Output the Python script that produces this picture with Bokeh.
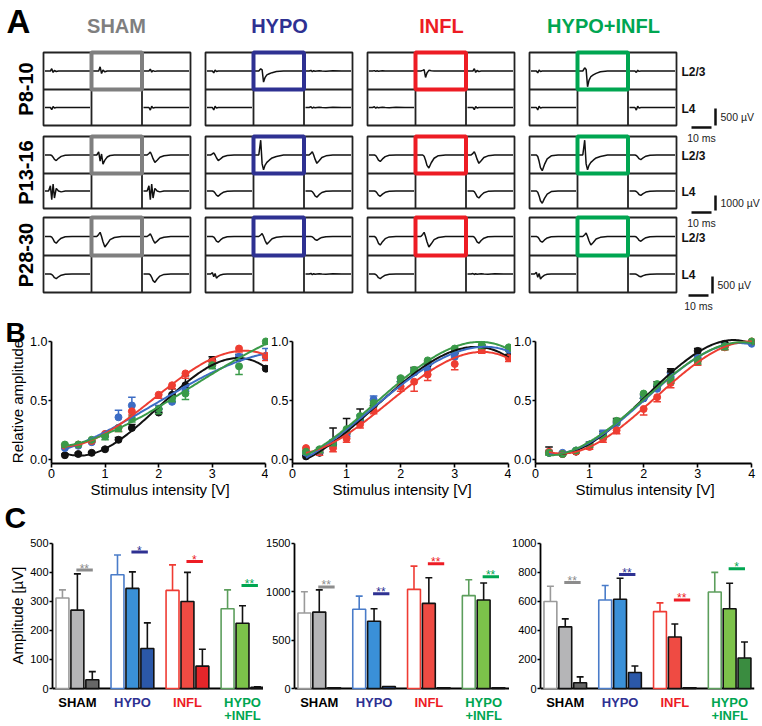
import numpy as np
from bokeh.plotting import figure
from bokeh.models import Range1d, FixedTicker, NumeralTickFormatter
from bokeh.layouts import column, row
from bokeh.embed import file_html
from bokeh.resources import INLINE
from bokeh.core.properties import value

FONT = "Liberation Sans"

# ======================= DATA =======================
GROUPS = ["SHAM", "HYPO", "INFL", "HYPO+INFL"]
GROUP_COLORS = ["#7f7f7f", "#2e3192", "#ed1c24", "#00a651"]
AGES = ["P8-10", "P13-16", "P28-30"]
LAYERS = ["L2/3", "L4"]
SCALE_LABELS = ["500 µV", "1000 µV", "500 µV"]
TIME_LABEL = "10 ms"

# Panel A: example traces (normalised sample times, relative deflection)
TRACE_T = [0, 0.08, 0.12, 0.15, 0.18, 0.21, 0.25, 0.30, 0.36, 0.45, 0.60, 0.80, 1.0]
SHAPES = {
    "flat":      [0, 0, 0.10, -0.10, 0.05, -0.05, 0, 0.05, 0, -0.03, 0.03, 0, 0],
    "blipup":    [0, 0, 0, 0.50, -0.30, 0.10, -0.10, 0, 0, 0, 0, 0, 0],
    "blipdn":    [0, 0, 0, -0.40, 0.20, -0.10, 0, 0, 0, 0, 0, 0, 0],
    "spike":     [0, 0, 0.10, 0.20, -1.0, -0.30, 0.10, 0.05, 0, 0, 0, 0, 0],
    "spikeslow": [0, 0, 0.20, 0.10, -1.0, -0.60, -0.35, -0.25, -0.15, -0.05, 0, 0, 0],
    "upspike":   [0, 0, 1.0, -0.60, -1.0, -0.70, -0.50, -0.35, -0.20, -0.10, 0, 0, 0],
    "vee":       [0, 0, 0, -0.10, -0.40, -0.80, -1.0, -0.60, -0.25, -0.05, 0, 0, 0],
    "wdip":      [0, 0, 0.30, -0.60, 0.10, -0.90, -0.50, -0.20, -0.05, 0, 0, 0, 0],
    "wspike":    [0, 0, 0.60, -1.0, 0.80, -0.80, 0.30, 0, -0.10, 0, 0, 0, 0],
    "bumpdip":   [0, 0, 0.20, 0.40, 0, -0.50, -1.0, -0.70, -0.30, -0.10, 0, 0, 0],
}
# per cell: L2/3 left, L2/3 centre, L2/3 right, L4 left, L4 right
TRACES = {
    "P8-10": {
        "SHAM": [("blipup", .25), ("blipup", .45), ("blipup", .2), ("blipdn", .3), ("blipdn", .35)],
        "HYPO": [("blipdn", .25), ("spikeslow", .6), ("flat", .3), ("blipdn", .35), ("flat", .4)],
        "INFL": [("flat", .2), ("spike", .35), ("blipup", .25), ("flat", .4), ("blipdn", .3)],
        "HYPO+INFL": [("blipdn", .25), ("spikeslow", .85), ("blipdn", .2), ("blipdn", .35), ("blipdn", .35)],
    },
    "P13-16": {
        "SHAM": [("vee", .3), ("wdip", .55), ("bumpdip", .4), ("wspike", .5), ("wspike", .5)],
        "HYPO": [("bumpdip", .3), ("upspike", .8), ("bumpdip", .45), ("vee", .3), ("vee", .35)],
        "INFL": [("vee", .35), ("vee", .7), ("bumpdip", .45), ("vee", .3), ("vee", .4)],
        "HYPO+INFL": [("vee", .85), ("upspike", .8), ("vee", .25), ("vee", .7), ("vee", .25)],
    },
    "P28-30": {
        "SHAM": [("vee", .35), ("bumpdip", .55), ("bumpdip", .35), ("vee", .25), ("vee", .45)],
        "HYPO": [("vee", .3), ("bumpdip", .4), ("vee", .2), ("wdip", .25), ("flat", .3)],
        "INFL": [("vee", .45), ("bumpdip", .55), ("vee", .35), ("vee", .25), ("flat", .25)],
        "HYPO+INFL": [("vee", .3), ("bumpdip", .45), ("vee", .25), ("wdip", .3), ("vee", .15)],
    },
}

# Panel B: relative amplitude vs stimulus intensity
B_X = [0.25, 0.5, 0.75, 1.0, 1.25, 1.5, 2.0, 2.25, 2.5, 3.0, 3.5, 4.0]
B_COLORS = ["#111111", "#3c6cc4", "#ee3d32", "#3a9a48"]
B_ERR_DIR = [1, 1, -1, -1]
B_YLABEL = "Relative amplitude"
B_XLABEL = "Stimulus intensity [V]"
B1_MEAN = {
    "SHAM": [0.04, 0.05, 0.06, 0.09, 0.17, 0.27, 0.40, 0.55, 0.63, 0.84, 0.86, 0.77],
    "HYPO": [0.10, 0.12, 0.15, 0.20, 0.36, 0.46, 0.43, 0.49, 0.58, 0.80, 0.87, 0.87],
    "INFL": [0.12, 0.13, 0.16, 0.22, 0.27, 0.41, 0.55, 0.63, 0.73, 0.83, 0.94, 0.88],
    "HYPO+INFL": [0.13, 0.13, 0.17, 0.20, 0.27, 0.35, 0.43, 0.52, 0.56, 0.80, 0.79, 1.00],
}
B1_ERR = {
    "SHAM": [0.01, 0.01, 0.01, 0.01, 0.02, 0.03, 0.03, 0.05, 0.08, 0.03, 0.03, 0.02],
    "HYPO": [0.01, 0.01, 0.01, 0.02, 0.06, 0.07, 0.03, 0.03, 0.04, 0.03, 0.02, 0.07],
    "INFL": [0.01, 0.01, 0.01, 0.02, 0.03, 0.03, 0.03, 0.03, 0.04, 0.04, 0.03, 0.04],
    "HYPO+INFL": [0.02, 0.01, 0.01, 0.03, 0.03, 0.03, 0.04, 0.03, 0.05, 0.03, 0.07, 0.02],
}
B2_MEAN = {
    "SHAM": [0.03, 0.06, 0.13, 0.22, 0.33, 0.46, 0.66, 0.74, 0.80, 0.90, 0.95, 0.87],
    "HYPO": [0.06, 0.07, 0.14, 0.20, 0.34, 0.51, 0.66, 0.74, 0.76, 0.87, 0.95, 0.93],
    "INFL": [0.10, 0.08, 0.10, 0.18, 0.30, 0.42, 0.62, 0.66, 0.72, 0.81, 0.93, 0.86],
    "HYPO+INFL": [0.07, 0.09, 0.15, 0.26, 0.37, 0.48, 0.69, 0.76, 0.84, 0.94, 0.97, 0.95],
}
B2_ERR = {
    "SHAM": [0.01, 0.02, 0.14, 0.13, 0.10, 0.04, 0.04, 0.04, 0.03, 0.02, 0.02, 0.02],
    "HYPO": [0.02, 0.03, 0.03, 0.04, 0.04, 0.03, 0.03, 0.03, 0.04, 0.03, 0.02, 0.03],
    "INFL": [0.02, 0.04, 0.03, 0.03, 0.03, 0.03, 0.04, 0.08, 0.05, 0.05, 0.03, 0.03],
    "HYPO+INFL": [0.02, 0.03, 0.03, 0.03, 0.03, 0.03, 0.03, 0.03, 0.03, 0.03, 0.03, 0.03],
}
B3_MEAN = {
    "SHAM": [0.06, 0.05, 0.07, 0.13, 0.21, 0.32, 0.52, 0.62, 0.74, 0.92, 0.98, 0.99],
    "HYPO": [0.06, 0.06, 0.08, 0.13, 0.22, 0.31, 0.52, 0.60, 0.70, 0.86, 0.96, 0.98],
    "INFL": [0.07, 0.05, 0.07, 0.11, 0.18, 0.25, 0.43, 0.53, 0.65, 0.83, 0.95, 1.00],
    "HYPO+INFL": [0.06, 0.05, 0.08, 0.13, 0.20, 0.33, 0.56, 0.64, 0.68, 0.84, 0.96, 1.00],
}
B3_ERR = {
    "SHAM": [0.05, 0.01, 0.01, 0.02, 0.03, 0.03, 0.03, 0.04, 0.03, 0.02, 0.01, 0.01],
    "HYPO": [0.02, 0.01, 0.01, 0.02, 0.03, 0.03, 0.03, 0.03, 0.03, 0.02, 0.02, 0.02],
    "INFL": [0.02, 0.01, 0.01, 0.02, 0.03, 0.03, 0.05, 0.04, 0.04, 0.03, 0.02, 0.02],
    "HYPO+INFL": [0.02, 0.01, 0.01, 0.02, 0.02, 0.03, 0.04, 0.03, 0.03, 0.03, 0.03, 0.02],
}

# Panel C: amplitudes [µV]  (open / filled / dark bar per group)
C_YLABEL = "Amplitude [µV]"
C_LABEL_COLORS = ["#000000", "#2e3192", "#ed1c24", "#00a651"]
C_OPEN_LINE = ["#9a9a9a", "#4a7cc9", "#ef3b33", "#5c9e5c"]
C_MID_FILL = ["#b5b5b7", "#3a90d8", "#ef4b43", "#7cc24a"]
C_DARK_FILL = ["#676767", "#2b58a8", "#e4262a", "#3a8c40"]
SIG_COLORS = ["#8c8c8c", "#2e3192", "#ed1c24", "#00a651"]

C1_MEAN = [[312, 270, 30], [392, 345, 138], [338, 300, 77], [275, 225, 4]]
C1_ERR = [[28, 125, 28], [68, 57, 88], [88, 100, 58], [65, 60, 2]]
C1_SIG = [("**", 408), ("*", 470), ("*", 438), ("**", 355)]
C1_TICKS = [0, 100, 200, 300, 400, 500]

C2_MEAN = [[780, 790, 8], [820, 695, 20], [1025, 880, 8], [960, 915, 8]]
C2_ERR = [[220, 230, 0], [135, 130, 0], [240, 265, 0], [165, 175, 0]]
C2_SIG = [("**", 1050), ("**", 980), ("**", 1290), ("**", 1156)]
C2_TICKS = [0, 500, 1000, 1500]

C3_MEAN = [[600, 425, 40], [610, 615, 110], [530, 355, 5], [665, 550, 210]]
C3_ERR = [[105, 55, 40], [100, 145, 45], [60, 90, 0], [135, 175, 110]]
C3_SIG = [("**", 730), ("**", 785), ("**", 610), ("*", 825)]
C3_TICKS = [0, 200, 400, 600, 800, 1000]

# ======================= PANEL A =======================
AW, AH = 760, 316
pa = figure(width=AW, height=AH, x_range=Range1d(0, AW), y_range=Range1d(AH, 0),
            x_axis_type=None, y_axis_type=None, toolbar_location=None,
            output_backend="svg", min_border=0, outline_line_color=None)
pa.xgrid.visible = False
pa.ygrid.visible = False

GX0 = [43, 205, 367, 529]
COL_E = [0, 48, 98.5, 147]
ROW_TOP = [52, 136, 217]
ROW_MID = [89, 173, 255]
ROW_BOT = [125, 208, 292]

box_l, box_r, box_t, box_b = [], [], [], []
lxs, lys = [], []
hl_l, hl_r, hl_t, hl_b, hl_c = [], [], [], [], []
txs, tys = [], []
for ai, age in enumerate(AGES):
    t, m, b = ROW_TOP[ai], ROW_MID[ai], ROW_BOT[ai]
    for gi, g in enumerate(GROUPS):
        x0 = GX0[gi]
        box_l.append(x0); box_r.append(x0 + COL_E[3]); box_t.append(t); box_b.append(b)
        lxs.append([x0, x0 + COL_E[3]]); lys.append([m, m])
        for ce in COL_E[1:3]:
            lxs.append([x0 + ce, x0 + ce]); lys.append([t, b])
        hl_l.append(x0 + COL_E[1]); hl_r.append(x0 + COL_E[2])
        hl_t.append(t); hl_b.append(m); hl_c.append(GROUP_COLORS[gi])
        cells = [(0, 0), (1, 0), (2, 0), (0, 1), (2, 1)]
        for (col, lay), (shape, amp) in zip(cells, TRACES[age][g]):
            cl = x0 + COL_E[col] + 1.5
            cr = x0 + COL_E[col + 1] - 1.5
            top = t if lay == 0 else m
            bot = m if lay == 0 else b
            cy = (top + bot) / 2
            half = (bot - top) / 2
            xs = [cl + tt * (cr - cl) for tt in TRACE_T]
            ys = [cy - v * amp * half for v in SHAPES[shape]]
            txs.append(xs); tys.append(ys)

pa.multi_line(txs, tys, line_color="#111111", line_width=1.5)
pa.multi_line(lxs, lys, line_color="#222222", line_width=1.8)
pa.quad(left=box_l, right=box_r, top=box_t, bottom=box_b, fill_color=None,
        line_color="#222222", line_width=1.8)
pa.quad(left=hl_l, right=hl_r, top=hl_t, bottom=hl_b, fill_color=None,
        line_color=hl_c, line_width=4)

pa.text(x=[116, 279, 441, 603], y=[25] * 4, text=GROUPS,
        text_color=GROUP_COLORS, text_font=value(FONT), text_font_style="bold",
        text_font_size="20px", text_align="center", text_baseline="middle")
pa.text(x=[6], y=[21], text=["A"], text_color="black", text_font=value(FONT),
        text_font_style="bold", text_font_size="33px", text_align="left",
        text_baseline="middle")
pa.text(x=[25] * 3, y=[(ROW_TOP[i] + ROW_BOT[i]) / 2 for i in range(3)], text=AGES,
        angle=np.pi / 2, text_color="black", text_font=value(FONT), text_font_style="bold",
        text_font_size="20px", text_align="center", text_baseline="middle")
ly_x, ly_y, ly_t = [], [], []
for i in range(3):
    ly_x += [681, 681]
    ly_y += [(ROW_TOP[i] + ROW_MID[i]) / 2 + 1, (ROW_MID[i] + ROW_BOT[i]) / 2 + 1]
    ly_t += LAYERS
pa.text(x=ly_x, y=ly_y, text=ly_t, text_color="#111111", text_font=value(FONT),
        text_font_style="bold", text_font_size="12px", text_align="left",
        text_baseline="middle")
SB_VX = [715, 715, 712]
SB_VY = [(108, 125), (195, 210), (276, 293)]
SB_HY = [127, 212, 295]
SB_HX = [(691, 711), (691, 711), (688, 708)]
for i in range(3):
    vx = SB_VX[i]
    pa.segment(x0=[vx], y0=[SB_VY[i][0]], x1=[vx], y1=[SB_VY[i][1]],
               line_color="#111111", line_width=2.5)
    pa.segment(x0=[SB_HX[i][0]], y0=[SB_HY[i]], x1=[SB_HX[i][1]], y1=[SB_HY[i]],
               line_color="#111111", line_width=2.5)
    pa.text(x=[vx + 5], y=[(SB_VY[i][0] + SB_VY[i][1]) / 2], text=[SCALE_LABELS[i]],
            text_color="#222222", text_font=value(FONT), text_font_size="10.5px",
            text_align="left", text_baseline="middle")
    pa.text(x=[(SB_HX[i][0] + SB_HX[i][1]) / 2], y=[SB_HY[i] + 4], text=[TIME_LABEL],
            text_color="#222222", text_font=value(FONT), text_font_size="10.5px",
            text_align="center", text_baseline="top")

# ======================= LEFT STRIP (panel letters, y titles) =======================
BH, CH = 189, 219
SW = 27
ps = figure(width=SW, height=BH + CH, x_range=Range1d(0, SW), y_range=Range1d(BH + CH, 0),
            x_axis_type=None, y_axis_type=None, toolbar_location=None,
            output_backend="svg", min_border=0, outline_line_color=None)
ps.xgrid.visible = False
ps.ygrid.visible = False
ps.text(x=[5], y=[0], text=["B"], text_color="black", text_font=value(FONT),
        text_font_style="bold", text_font_size="28px", text_align="left",
        text_baseline="top")
ps.text(x=[4], y=[201], text=["C"], text_color="black", text_font=value(FONT),
        text_font_style="bold", text_font_size="30px", text_align="left",
        text_baseline="middle")
ps.text(x=[17, 17], y=[85, 299], text=[B_YLABEL, C_YLABEL], angle=np.pi / 2,
        text_color="black", text_font=value(FONT), text_font_size="15px",
        text_align="center", text_baseline="middle")


# ======================= PANEL B =======================
def style_axis(ax, fs, tick_out=4, standoff=2):
    ax.axis_line_width = 1.8
    ax.axis_line_color = "black"
    ax.major_tick_line_width = 1.6
    ax.major_tick_line_color = "black"
    ax.major_tick_out = tick_out
    ax.major_tick_in = 0
    ax.minor_tick_line_color = None
    ax.major_label_text_font = FONT
    ax.major_label_text_font_size = fs
    ax.major_label_text_color = "black"
    ax.major_label_standoff = standoff
    ax.axis_label_text_font = FONT
    ax.axis_label_text_font_style = "normal"
    ax.axis_label_text_font_size = "15px"
    ax.axis_label_text_color = "black"
    ax.axis_label_standoff = 0


def make_b(means, errs, width, mbl, mbr=0):
    p = figure(width=width, height=BH, x_range=Range1d(0, 4.05), y_range=Range1d(-0.03, 1.05),
               toolbar_location=None, output_backend="svg", min_border_left=mbl,
               min_border_right=mbr, min_border_top=19, min_border_bottom=42,
               outline_line_color=None)
    p.xgrid.visible = False
    p.ygrid.visible = False
    p.xaxis.ticker = FixedTicker(ticks=[0, 1, 2, 3, 4])
    p.xaxis.bounds = (0, 4)
    p.yaxis.ticker = FixedTicker(ticks=[0, 0.5, 1.0])
    p.yaxis.bounds = (-0.03, 1.0)
    p.yaxis.formatter = NumeralTickFormatter(format="0.0")
    style_axis(p.xaxis[0], "12.5px", 4, 1)
    style_axis(p.yaxis[0], "12.5px", 3, 1)
    p.xaxis.axis_label = B_XLABEL
    xs = np.linspace(0.25, 4.0, 150)
    for gi, g in enumerate(GROUPS):
        y = np.array(means[g])
        e = np.array(errs[g]) * B_ERR_DIR[gi]
        c = B_COLORS[gi]
        x = np.array(B_X)
        p.segment(x0=x, y0=y, x1=x, y1=y + e, line_color=c, line_width=1.5)
        p.segment(x0=x - 0.07, y0=y + e, x1=x + 0.07, y1=y + e, line_color=c, line_width=1.5)
        p.scatter(x=x, y=y, size=7, fill_color=c, line_color=c)
    for gi, g in enumerate(GROUPS):
        coef = np.polyfit(B_X, means[g], 3)
        p.line(xs, np.polyval(coef, xs), line_color=B_COLORS[gi], line_width=2)
    return p


b1 = make_b(B1_MEAN, B1_ERR, 241, 22)
b2 = make_b(B2_MEAN, B2_ERR, 243, 24)
b3 = make_b(B3_MEAN, B3_ERR, 249, 24, 6)


# ======================= PANEL C =======================
def make_c(means, errs, sigs, ticks, ytop, width, mbl, mbr=0):
    fw = width - mbl - mbr
    ppu = ytop / 148.0           # data units per pixel
    ybot = -36 * ppu
    p = figure(width=width, height=CH, x_range=Range1d(0, fw), y_range=Range1d(ybot, ytop),
               toolbar_location=None, output_backend="svg", min_border_left=mbl,
               min_border_right=mbr, min_border_top=35, min_border_bottom=0,
               outline_line_color=None)
    p.xgrid.visible = False
    p.ygrid.visible = False
    p.xaxis.visible = False
    p.yaxis.ticker = FixedTicker(ticks=ticks)
    p.yaxis.bounds = (0, ticks[-1])
    style_axis(p.yaxis[0], "11px", 3, 1)
    # baseline (category axis line)
    p.segment(x0=[0], y0=[0], x1=[fw], y1=[0], line_color="black", line_width=1.8)
    bx, btop, bfill, bline = [], [], [], []
    ex, etop, ebot, ecol = [], [], [], []
    lab_x, lab_y, lab_t, lab_c = [], [], [], []
    for gi in range(4):
        gc = 25 + gi * 55.3
        for k in range(3):
            x = gc + (k - 1) * 15
            bx.append(x)
            btop.append(means[gi][k])
            if k == 0:
                bfill.append("white"); bline.append(C_OPEN_LINE[gi])
            else:
                bfill.append(C_MID_FILL[gi] if k == 1 else C_DARK_FILL[gi]); bline.append("#111111")
            if errs[gi][k] > 0:
                ex.append(x); ebot.append(means[gi][k]); etop.append(means[gi][k] + errs[gi][k])
                ecol.append(C_OPEN_LINE[gi] if k == 0 else "#111111")
        s, lvl = sigs[gi]
        p.segment(x0=[gc - 1], y0=[lvl], x1=[gc + 15.5], y1=[lvl], line_color=SIG_COLORS[gi],
                  line_width=3)
        p.text(x=[gc + 7], y=[lvl + 1.5 * ppu], text=[s], text_color=SIG_COLORS[gi],
               text_font=value(FONT), text_font_size="12px", text_align="center",
               text_baseline="middle")
        parts = GROUPS[gi].split("+")
        lab_x.append(gc); lab_y.append(-14 * ppu); lab_t.append(parts[0]); lab_c.append(C_LABEL_COLORS[gi])
        if len(parts) > 1:
            lab_x.append(gc); lab_y.append(-27 * ppu); lab_t.append("+" + parts[1])
            lab_c.append(C_LABEL_COLORS[gi])
    ex = np.array(ex)
    p.segment(x0=ex, y0=ebot, x1=ex, y1=etop, line_color=ecol, line_width=1.6)
    p.segment(x0=ex - 3.5, y0=etop, x1=ex + 3.5, y1=etop, line_color=ecol, line_width=1.6)
    p.vbar(x=bx, top=btop, bottom=0, width=13, fill_color=bfill, line_color=bline,
           line_width=1.6)
    p.text(x=lab_x, y=lab_y, text=lab_t, text_color=lab_c, text_font=value(FONT),
           text_font_style="bold", text_font_size="13px", text_align="center",
           text_baseline="middle")
    return p


c1 = make_c(C1_MEAN, C1_ERR, C1_SIG, C1_TICKS, 510, 236, 24)
c2 = make_c(C2_MEAN, C2_ERR, C2_SIG, C2_TICKS, 1530, 246, 29)
c3 = make_c(C3_MEAN, C3_ERR, C3_SIG, C3_TICKS, 1020, 251, 29, 6)

layout = column(pa, row(ps, column(row(b1, b2, b3), row(c1, c2, c3))))
open("out.html", "w").write(file_html(layout, INLINE))
